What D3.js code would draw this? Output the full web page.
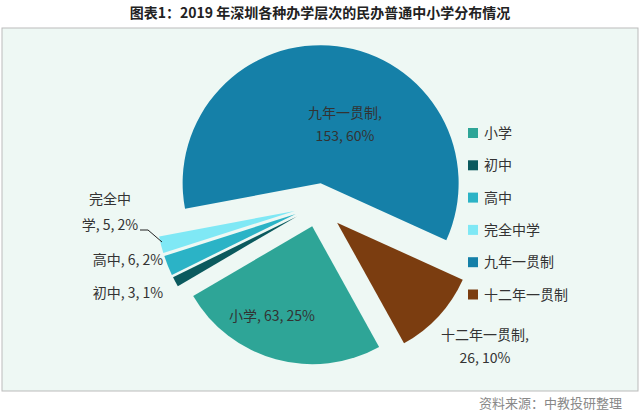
<!DOCTYPE html>
<html><head><meta charset="utf-8">
<script src="https://cdn.jsdelivr.net/npm/d3@7"></script>
<style>body{margin:0;background:#fff;font-family:"Noto Sans CJK SC",sans-serif}</style>
</head><body><div id="chart"></div>
<script>
var categories = ["小学", "初中", "高中", "完全中学", "九年一贯制", "十二年一贯制"];
var values = [63, 3, 6, 5, 153, 26];
var percents = ["25%", "1%", "2%", "2%", "60%", "10%"];
var colors = ["#2ea597", "#0b5a5e", "#2bb3c6", "#7fe8f5", "#1580a8", "#7b3d10"];
var explode = [22, 24, 24, 24, 22, 26];

var w = 640, h = 414;
var svg = d3.select("#chart").append("svg").attr("width", w).attr("height", h);

svg.append("text").attr("x", 320).attr("y", 18).attr("text-anchor", "middle")
   .attr("font-size", "14px").attr("font-weight", "bold").attr("fill", "#222")
   .text("图表1：2019 年深圳各种办学层次的民办普通中小学分布情况");

svg.append("rect").attr("x", 2).attr("y", 28).attr("width", 636).attr("height", 363)
   .attr("fill", "#eef8f4").attr("stroke", "#bbb");

var cx = 318, cy = 205, r = 138;
var pie = d3.pie().sort(null).startAngle(151 * Math.PI / 180).endAngle((151 + 360) * Math.PI / 180);
var arc = d3.arc().innerRadius(0).outerRadius(r);
var g = svg.append("g").attr("transform", "translate(" + cx + "," + cy + ")");

g.selectAll("path").data(pie(values)).enter().append("path")
 .attr("d", arc)
 .attr("fill", function(d, i) { return colors[i]; })
 .attr("transform", function(d, i) {
   var a = (d.startAngle + d.endAngle) / 2;
   return "translate(" + explode[i] * Math.sin(a) + "," + (-explode[i] * Math.cos(a)) + ")";
 });

// data labels
var labels = [
  {i: 0, x: 272, y: [321], lines: ["小学, 63, 25%"], anchor: "middle"},
  {i: 1, x: 128, y: [298], lines: ["初中, 3, 1%"], anchor: "middle"},
  {i: 2, x: 128, y: [265], lines: ["高中, 6, 2%"], anchor: "middle"},
  {i: 3, x: 110, y: [204, 230], lines: ["完全中", "学, 5, 2%"], anchor: "middle"},
  {i: 4, x: 345, y: [118, 141], lines: ["九年一贯制,", "153, 60%"], anchor: "middle"},
  {i: 5, x: 485, y: [340, 363], lines: ["十二年一贯制,", "26, 10%"], anchor: "middle"}
];
labels.forEach(function(l) {
  l.lines.forEach(function(t, k) {
    svg.append("text").attr("x", l.x).attr("y", l.y[k]).attr("text-anchor", l.anchor)
       .attr("font-size", "14px").attr("fill", "#333").text(t);
  });
});
svg.append("path").attr("d", "M140,230 L148,230 L162,242").attr("fill", "none").attr("stroke", "#222");

// legend
var leg = svg.append("g").attr("transform", "translate(468,128)");
categories.forEach(function(c, i) {
  var y = i * 32.3;
  leg.append("rect").attr("x", 0).attr("y", y).attr("width", 10).attr("height", 10).attr("fill", colors[i]);
  leg.append("text").attr("x", 16).attr("y", y + 10).attr("font-size", "14px").attr("fill", "#333").text(c);
});

svg.append("text").attr("x", 622).attr("y", 408).attr("text-anchor", "end")
   .attr("font-size", "13px").attr("fill", "#888").text("资料来源：中教投研整理");
</script></body></html>
